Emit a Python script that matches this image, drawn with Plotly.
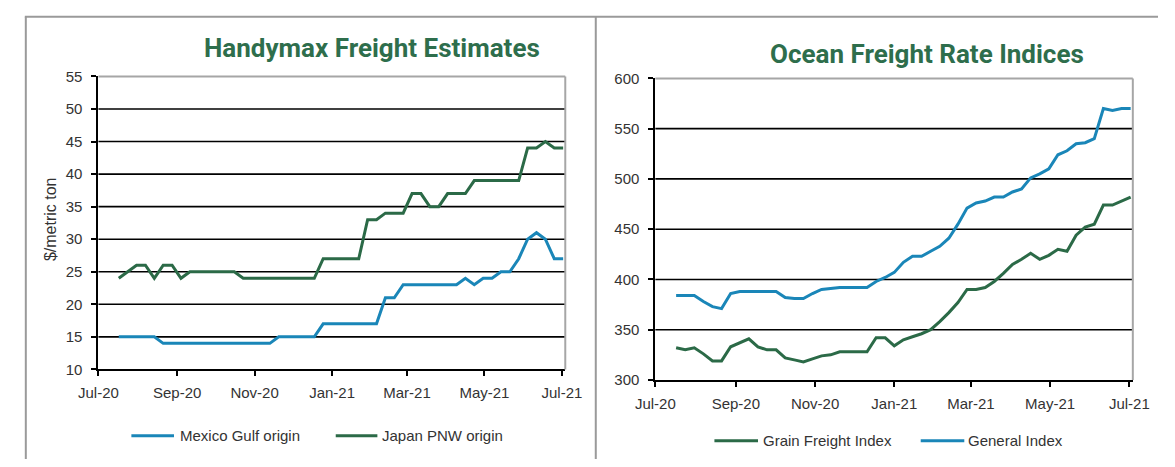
import plotly.graph_objects as go
import pandas as pd

W, H = 1175, 467

# ---------------- data ----------------
dates = pd.date_range("2020-07-17", periods=51, freq="7D")

mexico_gulf = [15, 15, 15, 15, 15, 14, 14, 14, 14, 14, 14, 14, 14, 14, 14, 14, 14, 14,
               15, 15, 15, 15, 15, 17, 17, 17, 17, 17, 17, 17, 21, 21, 23, 23, 23, 23,
               23, 23, 23, 24, 23, 24, 24, 25, 25, 27, 30, 31, 30, 27, 27]
japan_pnw = [24, 25, 26, 26, 24, 26, 26, 24, 25, 25, 25, 25, 25, 25, 24, 24, 24, 24,
             24, 24, 24, 24, 24, 27, 27, 27, 27, 27, 33, 33, 34, 34, 34, 37, 37, 35,
             35, 37, 37, 37, 39, 39, 39, 39, 39, 39, 44, 44, 45, 44, 44]

grain_freight = [332, 330, 332, 326, 319, 319, 333, 337, 341, 333, 330, 330, 322, 320,
                 318, 321, 324, 325, 328, 328, 328, 328, 342, 342, 334, 340, 343, 346,
                 350, 358, 367, 377, 390, 390, 392, 398, 406, 415, 420, 426, 420, 424,
                 430, 428, 444, 452, 455, 474, 474, 478, 482]
general_index = [384, 384, 384, 378, 373, 371, 386, 388, 388, 388, 388, 388, 382, 381,
                 381, 386, 390, 391, 392, 392, 392, 392, 398, 402, 407, 417, 423, 423,
                 428, 433, 441, 455, 471, 476, 478, 482, 482, 487, 490, 501, 505, 510,
                 524, 528, 535, 536, 540, 570, 568, 570, 570]

left_yticks = [10, 15, 20, 25, 30, 35, 40, 45, 50, 55]
right_yticks = [300, 350, 400, 450, 500, 550, 600]

left_title = "Handymax Freight Estimates"
right_title = "Ocean Freight Rate Indices"
left_ytitle = "$/metric ton"
left_names = ["Mexico Gulf origin", "Japan PNW origin"]
right_names = ["Grain Freight Index", "General Index"]

BLUE = "#1a86b8"
GREEN = "#2b6a47"
TITLE_GREEN = "#2e6e4c"
TXT = "#333333"
BORDER = "#9a9a9a"
FONT = "Liberation Sans, Arial, sans-serif"
TFONT = "Roboto, Liberation Sans, sans-serif"


def px(x):
    return x / W


def py(y):
    return 1 - y / H


fig = go.Figure()
fig.add_trace(go.Scatter(x=dates, y=mexico_gulf, mode="lines", name=left_names[0],
                         line=dict(color=BLUE, width=3), xaxis="x", yaxis="y"))
fig.add_trace(go.Scatter(x=dates, y=japan_pnw, mode="lines", name=left_names[1],
                         line=dict(color=GREEN, width=3), xaxis="x", yaxis="y"))
fig.add_trace(go.Scatter(x=dates, y=grain_freight, mode="lines", name=right_names[0],
                         line=dict(color=GREEN, width=3), xaxis="x2", yaxis="y2"))
fig.add_trace(go.Scatter(x=dates, y=general_index, mode="lines", name=right_names[1],
                         line=dict(color=BLUE, width=3), xaxis="x2", yaxis="y2"))

xcommon = dict(type="date", range=["2020-07-01", "2021-07-03 16:00"], tick0="2020-07-01",
               dtick="M2", tickformat="%b-%y", showgrid=False, zeroline=False,
               showline=True, linecolor="black", linewidth=2, ticks="outside",
               ticklen=5, tickwidth=1.5, tickcolor="black",
               tickfont=dict(family=FONT, size=15, color=TXT), ticklabelstandoff=4)
ycommon = dict(showgrid=False, zeroline=False, showline=True, linecolor="black",
               linewidth=2, ticks="outside", ticklen=5, tickwidth=1.5, tickcolor="black",
               tickfont=dict(family=FONT, size=15, color=TXT), ticklabelstandoff=6)

fig.update_layout(
    width=W, height=H, autosize=False,
    margin=dict(l=0, r=0, t=0, b=0),
    paper_bgcolor="white", plot_bgcolor="white",
    showlegend=False,
    xaxis=dict(domain=[px(81), px(563)], anchor="y", **xcommon),
    yaxis=dict(domain=[py(374), py(70)], anchor="x", range=[10, 55],
               tickvals=left_yticks, **ycommon),
    xaxis2=dict(domain=[px(656), px(1149)], anchor="y2", **xcommon),
    yaxis2=dict(domain=[py(385), py(72)], anchor="x2", range=[300, 600],
                tickvals=right_yticks, **ycommon),
)

shapes = []
# gridlines (inner tick values)
for v in left_yticks[1:-1]:
    shapes.append(dict(type="line", xref="x domain", yref="y", x0=0, x1=1, y0=v, y1=v,
                       line=dict(color="black", width=1.6), layer="below"))
for v in right_yticks[1:-1]:
    shapes.append(dict(type="line", xref="x2 domain", yref="y2", x0=0, x1=1, y0=v, y1=v,
                       line=dict(color="black", width=1.6), layer="below"))
# plot-area top/right borders (gray)
for xr, yr in (("x domain", "y domain"), ("x2 domain", "y2 domain")):
    shapes.append(dict(type="line", xref=xr, yref=yr, x0=0, x1=1, y0=1, y1=1,
                       line=dict(color="#a6a6a6", width=2)))
    shapes.append(dict(type="line", xref=xr, yref=yr, x0=1, x1=1, y0=0, y1=1,
                       line=dict(color="#a6a6a6", width=2)))
# panel frames
shapes.append(dict(type="line", xref="paper", yref="paper", x0=px(5), x1=1, y0=py(8), y1=py(8),
                   line=dict(color=BORDER, width=2)))
shapes.append(dict(type="line", xref="paper", yref="paper", x0=px(6), x1=px(6), y0=py(8), y1=0,
                   line=dict(color=BORDER, width=2)))
shapes.append(dict(type="line", xref="paper", yref="paper", x0=px(594.5), x1=px(594.5), y0=py(8), y1=0,
                   line=dict(color=BORDER, width=2)))

# manual legends
legend_items = [
    (115, 159, 163, 443, BLUE, left_names[0]),
    (326, 369, 372, 443, GREEN, left_names[1]),
    (717, 762, 765, 448, GREEN, right_names[0]),
    (930, 975, 977, 448, BLUE, right_names[1]),
]
annotations = []
for x0, x1, xt, yy, col, name in legend_items:
    shapes.append(dict(type="line", xref="paper", yref="paper", x0=px(x0), x1=px(x1),
                       y0=py(yy), y1=py(yy), line=dict(color=col, width=3)))
    annotations.append(dict(xref="paper", yref="paper", x=px(xt), y=py(yy), text=name,
                            showarrow=False, xanchor="left", yanchor="middle",
                            font=dict(family=FONT, size=15, color=TXT)))

annotations.append(dict(xref="paper", yref="paper", x=px(363), y=py(40), text="<b>" + left_title + "</b>",
                        showarrow=False, xanchor="center", yanchor="middle",
                        font=dict(family=TFONT, size=26, color=TITLE_GREEN)))
annotations.append(dict(xref="paper", yref="paper", x=px(936), y=py(47), text="<b>" + right_title + "</b>",
                        showarrow=False, xanchor="center", yanchor="middle",
                        font=dict(family=TFONT, size=26, color=TITLE_GREEN)))
annotations.append(dict(xref="paper", yref="paper", x=px(31), y=py(218), text=left_ytitle,
                        showarrow=False, xanchor="center", yanchor="middle", textangle=-90,
                        font=dict(family=FONT, size=16, color=TXT)))

fig.update_layout(shapes=shapes, annotations=annotations)
fig.write_html("out.html", config={"displayModeBar": False},
               post_script="document.body.style.margin='0px';document.body.style.overflow='hidden';")
